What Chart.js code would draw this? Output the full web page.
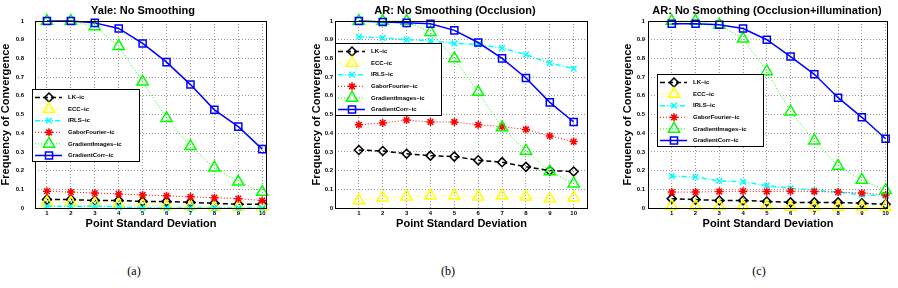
<!DOCTYPE html>
<html>
<head>
<meta charset="utf-8">
<script src="https://cdn.jsdelivr.net/npm/chart.js@4.4.1/dist/chart.umd.min.js"></script>
<style>
  html, body { margin: 0; padding: 0; background: #fff; overflow: hidden; width: 898px; height: 288px; }
  canvas { position: absolute; top: 0; }
  .cap { position: absolute; top: 264px; font: 12px "Liberation Serif", "DejaVu Serif", serif; transform: translateX(-50%); color: #000; }
</style>
</head>
<body>
<canvas id="chartA" width="286" height="232" style="left:0px"></canvas>
<canvas id="chartB" width="288" height="232" style="left:311px"></canvas>
<canvas id="chartC" width="290" height="232" style="left:622px"></canvas>
<div class="cap" style="left:134px">(a)</div>
<div class="cap" style="left:448px">(b)</div>
<div class="cap" style="left:759px">(c)</div>

<script>
'use strict'

// x values / tick labels
const pointSD = [1, 2, 3, 4, 5, 6, 7, 8, 9, 10];
const xTickLabels = ['1', '2', '3', '4', '5', '6', '7', '8', '9', '10'];
const yTickValues = [0, 0.1, 0.2, 0.3, 0.4, 0.5, 0.6, 0.7, 0.8, 0.9, 1];
const yTickLabels = ['0', '0.1', '0.2', '0.3', '0.4', '0.5', '0.6', '0.7', '0.8', '0.9', '1'];
const methodNames = ['LK–ic', 'ECC–ic', 'IRLS–ic', 'GaborFourier–ic', 'GradientImages–ic', 'GradientCorr–ic'];

// (a) Yale: No Smoothing
const yaleLK       = [0.045, 0.045, 0.04, 0.04, 0.035, 0.035, 0.03, 0.025, 0.02, 0.02];
const yaleECC      = [0.03, 0.03, 0.025, 0.02, 0.015, 0.01, 0.01, 0.005, 0.005, 0.005];
const yaleIRLS     = [0.01, 0.01, 0.01, 0.005, 0.0, 0.0, 0.0, 0.0, 0.0, 0.0];
const yaleGabor    = [0.09, 0.085, 0.08, 0.075, 0.07, 0.065, 0.06, 0.055, 0.05, 0.04];
const yaleGradImg  = [1.0, 1.0, 0.97, 0.865, 0.675, 0.48, 0.33, 0.215, 0.14, 0.085];
const yaleGradCorr = [1.0, 1.0, 0.99, 0.96, 0.88, 0.78, 0.66, 0.525, 0.435, 0.315];

// (b) AR: No Smoothing (Occlusion)
const occLK       = [0.31, 0.305, 0.29, 0.28, 0.275, 0.255, 0.245, 0.22, 0.2, 0.195];
const occECC      = [0.04, 0.055, 0.06, 0.065, 0.065, 0.06, 0.065, 0.06, 0.05, 0.055];
const occIRLS     = [0.915, 0.91, 0.9, 0.895, 0.88, 0.875, 0.855, 0.82, 0.775, 0.745];
const occGabor    = [0.445, 0.455, 0.47, 0.46, 0.46, 0.445, 0.435, 0.42, 0.385, 0.355];
const occGradImg  = [1.0, 1.0, 1.0, 0.94, 0.8, 0.62, 0.43, 0.305, 0.195, 0.13];
const occGradCorr = [1.0, 0.995, 0.99, 0.985, 0.95, 0.885, 0.8, 0.695, 0.565, 0.46];

// (c) AR: No Smoothing (Occlusion+illumination)
const illLK       = [0.05, 0.045, 0.04, 0.04, 0.035, 0.03, 0.03, 0.03, 0.025, 0.02];
const illECC      = [0.01, 0.01, 0.01, 0.01, 0.01, 0.005, 0.005, 0.005, 0.005, 0.005];
const illIRLS     = [0.17, 0.165, 0.145, 0.14, 0.12, 0.105, 0.095, 0.085, 0.07, 0.065];
const illGabor    = [0.085, 0.085, 0.088, 0.09, 0.088, 0.09, 0.088, 0.085, 0.08, 0.07];
const illGradImg  = [1.0, 1.0, 0.98, 0.905, 0.73, 0.515, 0.36, 0.225, 0.15, 0.095];
const illGradCorr = [0.985, 0.985, 0.98, 0.96, 0.9, 0.81, 0.715, 0.59, 0.485, 0.37];


const FONT = '"Liberation Sans", Arial, sans-serif';

// line / marker look for each method, in legend order
const styles = [
  { color: '#000000', dash: [5, 3], width: 1.5, point: 'rectRot', r: 4.5 },
  { color: '#ffff00', dash: [1, 2], width: 1, point: 'triangle', r: 6.5 },
  { color: '#00ffff', dash: [5, 2, 1, 2], width: 1.5, point: 'crossRot', r: 4 },
  { color: '#ff0000', dash: [1, 2], width: 1, point: 'star', r: 4 },
  { color: '#00ff00', dash: [1, 2], width: 1, point: 'triangle', r: 6.5 },
  { color: '#0000ff', dash: [], width: 1.5, point: 'rect', r: 5 },
];

function makeDatasets(seriesList) {
  return seriesList.map((vals, i) => ({
    label: methodNames[i],
    data: pointSD.map((x, k) => ({ x: x, y: vals[k] })),
    borderColor: styles[i].color,
    borderDash: styles[i].dash,
    borderWidth: styles[i].width,
    pointStyle: styles[i].point,
    pointRadius: styles[i].r,
    pointBorderWidth: 1.5,
    pointBorderColor: styles[i].color,
    pointBackgroundColor: 'rgba(0,0,0,0)',
    fill: false,
    tension: 0,
    clip: false,
    order: 6 - i,
  }));
}

// axes box + legend inside the plot, like the matlab figure
const boxLegend = {
  id: 'boxLegend',
  afterDatasetsDraw(chart, args, opts) {
    const ctx = chart.ctx;
    const a = chart.chartArea;
    ctx.save();
    ctx.setLineDash([]);
    ctx.strokeStyle = '#000';
    ctx.lineWidth = 1;
    ctx.strokeRect(Math.round(a.left) + 0.5, Math.round(a.top) + 0.5,
      Math.round(a.right - a.left) - 1, Math.round(a.bottom - a.top));

    // legend box
    ctx.fillStyle = '#fff';
    ctx.fillRect(opts.x, opts.y, opts.w, opts.h);
    ctx.strokeRect(opts.x + 0.5, opts.y + 0.5, opts.w, opts.h);

    chart.data.datasets.forEach((ds, i) => {
      const yy = opts.y + 8.5 + i * 11.6;
      ctx.setLineDash(ds.borderDash);
      ctx.strokeStyle = ds.borderColor;
      ctx.lineWidth = ds.borderWidth;
      ctx.beginPath();
      ctx.moveTo(opts.x + 3, yy);
      ctx.lineTo(opts.x + 30, yy);
      ctx.stroke();
      ctx.setLineDash([]);
      ctx.lineWidth = 1.5;
      ctx.fillStyle = 'rgba(0,0,0,0)';
      Chart.helpers.drawPoint(ctx, { pointStyle: ds.pointStyle, radius: ds.pointRadius, borderWidth: 1.5, rotation: 0 },
        opts.x + 17, yy);
      ctx.fillStyle = '#000';
      ctx.font = 'bold 6px ' + FONT;
      ctx.textAlign = 'left';
      ctx.textBaseline = 'middle';
      ctx.fillText(ds.label, opts.x + 36, yy);
    });
    ctx.restore();
  }
};

function createChart(id, title, seriesList, g) {
  const ctx = document.getElementById(id).getContext('2d');
  return new Chart(ctx, {
    type: 'line',
    data: { datasets: makeDatasets(seriesList) },
    plugins: [boxLegend],
    options: {
      responsive: false,
      animation: false,
      layout: { padding: 0 },
      plugins: {
        legend: { display: false },
        tooltip: { enabled: false },
        title: {
          display: true,
          text: title,
          color: '#000',
          font: { family: FONT, size: 11, weight: 'bold', lineHeight: 1.2 },
          padding: { top: 4.8, bottom: 3 },
        },
        boxLegend: g.legend,
      },
      scales: {
        x: {
          type: 'linear',
          min: g.xmin,
          max: g.xmax,
          afterBuildTicks: s => { s.ticks = pointSD.map(v => ({ value: v })); },
          afterFit: s => { s.height = 24; },
          ticks: {
            autoSkip: false, maxRotation: 0, padding: 2, color: '#000',
            font: { family: FONT, size: 6, weight: 'bold' },
            callback: (v, i) => xTickLabels[i],
          },
          grid: { color: 'rgba(0,0,0,0.5)', lineWidth: 0.8, drawTicks: false },
          border: { display: false, dash: [1, 2] },
          title: {
            display: true, text: 'Point Standard Deviation', color: '#000',
            font: { family: FONT, size: 11, weight: 'bold', lineHeight: 1 },
            padding: { top: 0, bottom: 2.5 },
          },
        },
        y: {
          type: 'linear',
          min: 0,
          max: 1,
          afterBuildTicks: s => { s.ticks = yTickValues.map(v => ({ value: v })); },
          afterFit: s => { s.width = g.yAxisW; },
          ticks: {
            padding: g.yPad, color: '#000',
            font: { family: FONT, size: 6, weight: 'bold' },
            callback: (v, i) => yTickLabels[i],
          },
          grid: { color: 'rgba(0,0,0,0.5)', lineWidth: 0.8, drawTicks: false },
          border: { display: false, dash: [1, 2] },
          title: {
            display: true, text: 'Frequency of Convergence', color: '#000',
            font: { family: FONT, size: 11, weight: 'bold', lineHeight: 1 },
            padding: { top: 0, bottom: 0 },
          },
        },
        yR: {
          type: 'linear',
          position: 'right',
          display: true,
          ticks: { display: false },
          grid: { display: false },
          border: { display: false },
          afterFit: s => { s.width = g.rightW; },
        },
      },
    },
  });
}

createChart('chartA', 'Yale: No Smoothing',
  [yaleLK, yaleECC, yaleIRLS, yaleGabor, yaleGradImg, yaleGradCorr],
  { xmin: 0.5, xmax: 10.2, yAxisW: 35, yPad: 11, rightW: 19,
    legend: { x: 32, y: 89, w: 107, h: 72 } });

createChart('chartB', 'AR: No Smoothing (Occlusion)',
  [occLK, occECC, occIRLS, occGabor, occGradImg, occGradCorr],
  { xmin: 0, xmax: 10.6, yAxisW: 24, yPad: 2, rightW: 11,
    legend: { x: 24, y: 43, w: 106, h: 72 } });

createChart('chartC', 'AR: No Smoothing (Occlusion+illumination)',
  [illLK, illECC, illIRLS, illGabor, illGradImg, illGradCorr],
  { xmin: 0, xmax: 10.1, yAxisW: 26, yPad: 3, rightW: 24,
    legend: { x: 35, y: 74, w: 106, h: 72 } });
</script>
</body>
</html>
